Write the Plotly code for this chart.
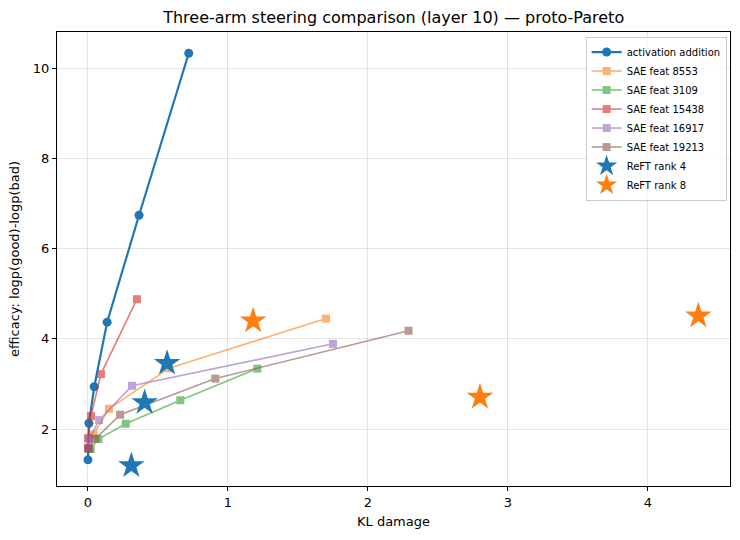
import plotly.graph_objects as go

# Activation addition
act_kl = [0.0, 0.007, 0.045, 0.137, 0.365, 0.72]
act_eff = [1.32, 2.13, 2.94, 4.37, 6.74, 10.33]

# SAE features
sae_names = ["SAE feat 8553", "SAE feat 3109", "SAE feat 15438", "SAE feat 16917", "SAE feat 19213"]
sae_8553_kl = [0.005, 0.04, 0.15, 0.58, 1.70]
sae_8553_eff = [1.60, 1.88, 2.45, 3.35, 4.45]
sae_3109_kl = [0.02, 0.075, 0.27, 0.66, 1.21]
sae_3109_eff = [1.56, 1.78, 2.12, 2.64, 3.34]
sae_15438_kl = [0.0, 0.0, 0.022, 0.093, 0.35]
sae_15438_eff = [1.58, 1.80, 2.29, 3.22, 4.88]
sae_16917_kl = [0.005, 0.01, 0.08, 0.315, 1.75]
sae_16917_eff = [1.57, 1.78, 2.20, 2.96, 3.89]
sae_19213_kl = [0.005, 0.055, 0.23, 0.91, 2.29]
sae_19213_eff = [1.56, 1.79, 2.32, 3.12, 4.18]

# ReFT
reft4_kl = [0.31, 0.405, 0.565]
reft4_eff = [1.19, 2.59, 3.46]
reft8_kl = [1.18, 2.80, 4.36]
reft8_eff = [4.40, 2.71, 4.51]

colors = ["#1f77b4", "#ff7f0e", "#2ca02c", "#d62728", "#9467bd", "#8c564b"]

fig = go.Figure()
fig.add_trace(go.Scatter(x=act_kl, y=act_eff, mode="lines+markers", name="activation addition",
                         line=dict(color=colors[0], width=2.2),
                         marker=dict(symbol="circle", size=9, color=colors[0])))

sae_kls = [sae_8553_kl, sae_3109_kl, sae_15438_kl, sae_16917_kl, sae_19213_kl]
sae_effs = [sae_8553_eff, sae_3109_eff, sae_15438_eff, sae_16917_eff, sae_19213_eff]
for i, (nm, xs, ys) in enumerate(zip(sae_names, sae_kls, sae_effs)):
    fig.add_trace(go.Scatter(x=xs, y=ys, mode="lines+markers", name=nm, opacity=0.6,
                             line=dict(color=colors[i + 1], width=1.6),
                             marker=dict(symbol="square", size=8, color=colors[i + 1])))

fig.add_trace(go.Scatter(x=reft4_kl, y=reft4_eff, mode="markers", name="ReFT rank 4",
                         marker=dict(symbol="star", size=20, color=colors[0], line=dict(width=0))))
fig.add_trace(go.Scatter(x=reft8_kl, y=reft8_eff, mode="markers", name="ReFT rank 8",
                         marker=dict(symbol="star", size=20, color=colors[1], line=dict(width=0))))

axis_common = dict(showline=True, linecolor="black", linewidth=1, mirror=True,
                   ticks="outside", ticklen=4, tickcolor="black",
                   showgrid=True, gridcolor="rgba(0,0,0,0.1)", gridwidth=1, zeroline=False,
                   tickfont=dict(size=13, color="black"))

fig.update_layout(
    width=740, height=540,
    margin=dict(l=57, r=10, t=32, b=54),
    paper_bgcolor="white", plot_bgcolor="white",
    font=dict(family="DejaVu Sans", color="black"),
    title=dict(text="Three-arm steering comparison (layer 10) — proto-Pareto",
               x=0.532, xanchor="center", y=0.967, yanchor="middle", font=dict(size=16)),
    xaxis=dict(title=dict(text="KL damage", font=dict(size=13), standoff=8),
               range=[-0.221, 4.586], tickvals=[0, 1, 2, 3, 4], **axis_common),
    yaxis=dict(title=dict(text="efficacy: logp(good)-logp(bad)", font=dict(size=13), standoff=10),
               range=[0.74, 10.8], tickvals=[2, 4, 6, 8, 10], **axis_common),
    legend=dict(x=0.995, y=0.99, xanchor="right", yanchor="top",
                bgcolor="rgba(255,255,255,0.8)", bordercolor="#cccccc", borderwidth=1,
                font=dict(size=10), tracegroupgap=0, itemwidth=30),
    showlegend=True,
)

fig.write_html("out.html")
